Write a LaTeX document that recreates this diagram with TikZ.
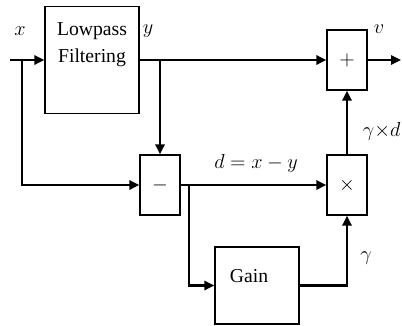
\documentclass[tikz,border=0pt]{standalone}
\usepackage{fontspec}
\setmainfont{Liberation Serif}
\usetikzlibrary{arrows.meta,positioning}
\tikzset{
  blk/.style={
    rectangle, draw=black, line width=1pt,
    minimum width=#1, inner sep=0pt,
    font=\fontsize{14}{19}\selectfont
  },
  opbox/.style={
    rectangle, draw=black, line width=1pt,
    minimum width=1.0cm, minimum height=1.5cm,
    font=\fontsize{15}{17}\selectfont
  },
  sig/.style={-{Triangle[length=7pt,width=6.5pt]}, line width=1.6pt},
  lbl/.style={font=\fontsize{15}{17}\selectfont}
}
\begin{document}
\begin{tikzpicture}[x=0.025cm,y=-0.025cm]
  \useasboundingbox (0,0) rectangle (402,325);

  % Blocks
  \node[blk=2.35cm, minimum height=2.675cm,
        label={[anchor=north,align=center,font=\fontsize{14}{19}\selectfont,yshift=-0.3cm]north:Lowpass\\Filtering}] (lpf) at (92,60) {};
  \node[opbox] (sub)  at (160,185) {$-$};
  \node[opbox] (add)  at (347,60)  {$+$};
  \node[opbox] (mul)  at (347,185) {$\times$};
  \node[blk=2.1cm, minimum height=1.925cm,
        label={[anchor=north,font=\fontsize{14}{16}\selectfont,yshift=-0.45cm,xshift=-0.2cm]north:Gain}] (gain) at (257,285.5) {};

  % Branch points and ends
  \coordinate (xin)  at (10,60);
  \coordinate (xbr)  at (22,60);
  \coordinate (ybr)  at (160,60);
  \coordinate (dbr)  at (189,185);
  \coordinate (vout) at (401,60);

  % Arrows
  \draw[sig] (xin) -- (lpf);
  \draw[sig] (lpf) -- (add);
  \draw[sig] (add) -- (vout);
  \draw[sig] (ybr) -- (sub);
  \draw[sig] (xbr) |- (sub);
  \draw[sig] (sub) -- (mul);
  \draw[sig] (dbr) |- (gain);
  \draw[sig] (gain.east) -| (mul);
  \draw[sig] (mul) -- (add);

  % Labels
  \node[lbl] (xlab) at (20,31)  {$x$};
  \node[lbl] (ylab) at (148,31) {$y$};
  \node[lbl] (vlab) at (379,29) {$v$};
  \node[lbl] (dlab) at (256,163) {$d = x - y$};
  \node[lbl, anchor=east, inner sep=1pt] (gdlab) at (402,131) {$\gamma{\times}d$};
  \node[lbl] (glab) at (366,258) {$\gamma$};
\end{tikzpicture}
\end{document}
